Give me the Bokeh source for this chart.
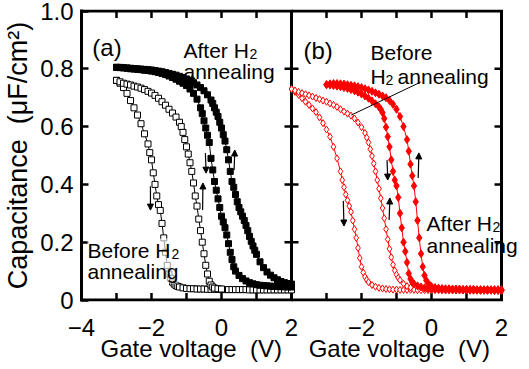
from bokeh.plotting import figure
from bokeh.models import Range1d, LinearAxis, FixedTicker, Label, Arrow, NormalHead
from bokeh.embed import file_html
from bokeh.resources import INLINE

FONT = "Liberation Sans"

# ---------------- data: panel (a) ----------------
a_bef_dn_v = [-3.0, -2.9, -2.8, -2.7, -2.6, -2.5, -2.4, -2.3, -2.2, -2.1,
              -2.05, -2.0, -1.95, -1.9, -1.85, -1.8, -1.75, -1.7, -1.65, -1.6, -1.55, -1.5, -1.45, -1.4, -1.35, -1.3, -1.25,
              -1.2, -1.1, -1.0, -0.9, -0.8, -0.7, -0.6, -0.5, -0.4, -0.3, -0.2, -0.1, 0.0,
              0.1, 0.2, 0.3, 0.4, 0.5, 0.6, 0.7, 0.8, 0.9, 1.0, 1.1, 1.2, 1.3, 1.4, 1.5, 1.6, 1.7, 1.8, 1.9, 2.0]
a_bef_dn_c = [0.76, 0.75, 0.735, 0.715, 0.69, 0.665, 0.64, 0.61, 0.575, 0.54,
              0.51, 0.485, 0.44, 0.40, 0.36, 0.33, 0.31, 0.265, 0.215, 0.165, 0.12, 0.09, 0.075, 0.062, 0.055, 0.05, 0.047,
              0.045, 0.042, 0.040, 0.039, 0.039, 0.038, 0.038, 0.038, 0.037, 0.037, 0.037, 0.037, 0.037,
              0.036, 0.036, 0.036, 0.036, 0.036, 0.036, 0.036, 0.035, 0.035, 0.035, 0.035, 0.035, 0.035, 0.035, 0.035,
              0.035, 0.035, 0.035, 0.035, 0.035]

a_bef_up_v = [-3.0, -2.9, -2.8, -2.7, -2.6, -2.5, -2.4, -2.3, -2.2, -2.1, -2.0, -1.9, -1.8, -1.7, -1.6, -1.5, -1.4, -1.3, -1.2,
              -1.15, -1.1, -1.05, -1.0, -0.95, -0.9, -0.85, -0.8, -0.75, -0.7, -0.65, -0.6, -0.55, -0.5, -0.45, -0.4,
              -0.35, -0.3, -0.25, -0.2, -0.1, 0.0]
a_bef_up_c = [0.76, 0.755, 0.75, 0.747, 0.744, 0.74, 0.737, 0.733, 0.728, 0.722, 0.716, 0.708, 0.698, 0.686, 0.674, 0.66,
              0.647, 0.633, 0.615,
              0.60, 0.58, 0.555, 0.53, 0.505, 0.475, 0.445, 0.405, 0.36, 0.325, 0.28, 0.24, 0.20, 0.16, 0.12, 0.09,
              0.065, 0.052, 0.045, 0.041, 0.039, 0.038]

a_aft_dn_v = [-3.0, -2.9, -2.8, -2.7, -2.6, -2.5, -2.4, -2.3, -2.2, -2.1, -2.0, -1.9, -1.8, -1.7, -1.6, -1.5, -1.4, -1.3,
              -1.2, -1.1, -1.0, -0.9, -0.8, -0.7, -0.6,
              -0.55, -0.5, -0.45, -0.4, -0.35, -0.3, -0.25, -0.2, -0.15, -0.1, -0.05, 0.0, 0.05, 0.1, 0.15, 0.2, 0.25,
              0.3, 0.35, 0.4,
              0.5, 0.6, 0.7, 0.8, 0.9, 1.0, 1.1, 1.2, 1.3, 1.4, 1.5, 1.6, 1.7, 1.8, 1.9, 2.0]
a_aft_dn_c = [0.805, 0.804, 0.803, 0.802, 0.80, 0.799, 0.798, 0.797, 0.795, 0.794, 0.792, 0.79, 0.787, 0.784, 0.78,
              0.775, 0.77, 0.764, 0.757, 0.75, 0.742, 0.73, 0.715, 0.695, 0.665,
              0.645, 0.62, 0.595, 0.57, 0.545, 0.49, 0.45, 0.41, 0.38, 0.35, 0.32, 0.29, 0.27, 0.25, 0.225, 0.195,
              0.165, 0.14, 0.115, 0.10,
              0.085, 0.074, 0.066, 0.06, 0.056, 0.053, 0.051, 0.05, 0.049, 0.048, 0.047, 0.047, 0.046, 0.046, 0.045,
              0.045]

a_aft_up_v = [-3.0, -2.9, -2.8, -2.7, -2.6, -2.5, -2.4, -2.3, -2.2, -2.1, -2.0, -1.9, -1.8, -1.7, -1.6, -1.5, -1.4, -1.3,
              -1.2, -1.1, -1.0, -0.9, -0.8, -0.7, -0.6, -0.5, -0.4, -0.3,
              -0.25, -0.2, -0.15, -0.1, -0.05, 0.0, 0.05, 0.1, 0.15, 0.2, 0.25, 0.3, 0.35, 0.4, 0.45, 0.5, 0.55, 0.6,
              0.65, 0.7, 0.75, 0.8, 0.85, 0.9, 0.95, 1.0,
              1.1, 1.2, 1.3, 1.4, 1.5, 1.6, 1.7, 1.8, 1.9, 2.0]
a_aft_up_c = [0.805, 0.805, 0.804, 0.803, 0.802, 0.801, 0.80, 0.799, 0.798, 0.797, 0.796, 0.794, 0.792, 0.79, 0.787,
              0.784, 0.781, 0.778, 0.774, 0.77, 0.765, 0.759, 0.752, 0.744, 0.735, 0.724, 0.71, 0.692,
              0.68, 0.665, 0.65, 0.635, 0.615, 0.595, 0.572, 0.55, 0.52, 0.485, 0.445, 0.41, 0.39, 0.365, 0.34, 0.32,
              0.305, 0.29, 0.275, 0.258, 0.24, 0.22, 0.203, 0.187, 0.172, 0.158,
              0.132, 0.112, 0.097, 0.086, 0.077, 0.07, 0.064, 0.06, 0.057, 0.055]

# ---------------- data: panel (b) ----------------
b_bef_dn_v = [-4.0, -3.9, -3.8, -3.7, -3.6, -3.5, -3.4, -3.3, -3.2, -3.1, -3.0, -2.9, -2.8, -2.7, -2.6,
              -2.55, -2.5, -2.45, -2.4, -2.35, -2.3, -2.25, -2.2, -2.15, -2.1, -2.05, -2.0, -1.95, -1.9, -1.85, -1.8,
              -1.7, -1.6, -1.5, -1.4, -1.3, -1.2, -1.1, -1.0, -0.9, -0.8, -0.7, -0.6, -0.5, -0.4, -0.3, -0.2, -0.1,
              0.0, 0.1, 0.2, 0.3, 0.4, 0.5, 0.6, 0.7, 0.8, 0.9, 1.0, 1.1, 1.2, 1.3, 1.4, 1.5, 1.6, 1.7, 1.8, 1.9, 2.0]
b_bef_dn_c = [0.73, 0.72, 0.71, 0.698, 0.686, 0.675, 0.663, 0.65, 0.632, 0.612, 0.59, 0.565, 0.53, 0.49, 0.445,
              0.415, 0.39, 0.365, 0.345, 0.325, 0.305, 0.275, 0.245, 0.215, 0.18, 0.145, 0.115, 0.095, 0.08, 0.07,
              0.062,
              0.052, 0.046, 0.042, 0.040, 0.038, 0.037, 0.036, 0.036, 0.035, 0.035, 0.035, 0.035, 0.035, 0.034,
              0.034, 0.034, 0.034, 0.034, 0.034, 0.034, 0.033, 0.033, 0.033, 0.033, 0.033, 0.033, 0.033, 0.033,
              0.032, 0.032, 0.032, 0.032, 0.032, 0.032, 0.032, 0.032, 0.032, 0.032]

b_bef_up_v = [-4.0, -3.9, -3.8, -3.7, -3.6, -3.5, -3.4, -3.3, -3.2, -3.1, -3.0, -2.9, -2.8, -2.7, -2.6, -2.5, -2.4,
              -2.3, -2.2, -2.1, -2.0, -1.9,
              -1.85, -1.8, -1.75, -1.7, -1.65, -1.6, -1.55, -1.5, -1.45, -1.4, -1.35, -1.3, -1.25, -1.2, -1.15, -1.1,
              -1.05, -1.0, -0.95, -0.9,
              -0.8, -0.7, -0.6]
b_bef_up_c = [0.73, 0.725, 0.72, 0.716, 0.712, 0.708, 0.704, 0.699, 0.695, 0.69, 0.686, 0.68, 0.675, 0.668, 0.66,
              0.652, 0.645, 0.638, 0.628, 0.614, 0.598, 0.578,
              0.562, 0.545, 0.522, 0.498, 0.472, 0.445, 0.415, 0.385, 0.352, 0.318, 0.283, 0.245, 0.21, 0.177, 0.148,
              0.122, 0.102, 0.088, 0.077, 0.069,
              0.056, 0.048, 0.043]

b_aft_dn_v = [-3.0, -2.9, -2.8, -2.7, -2.6, -2.5, -2.4, -2.3, -2.2, -2.1, -2.0, -1.9, -1.8, -1.7, -1.6, -1.5,
              -1.45, -1.4, -1.35, -1.3, -1.25, -1.2, -1.15, -1.1, -1.05, -1.0, -0.95, -0.9, -0.85, -0.8, -0.75, -0.7,
              -0.65, -0.6, -0.55, -0.5,
              -0.4, -0.3, -0.2, -0.1, 0.0, 0.1, 0.2, 0.3, 0.4, 0.5, 0.6, 0.7, 0.8, 0.9, 1.0, 1.1, 1.2, 1.3, 1.4, 1.5,
              1.6, 1.7, 1.8, 1.9, 2.0]
b_aft_dn_c = [0.745, 0.744, 0.742, 0.74, 0.738, 0.735, 0.732, 0.728, 0.724, 0.719, 0.713, 0.706, 0.698, 0.689, 0.679,
              0.668,
              0.66, 0.648, 0.628, 0.598, 0.565, 0.53, 0.485, 0.445, 0.415, 0.395, 0.355, 0.30, 0.25, 0.20, 0.168,
              0.13, 0.092, 0.073, 0.062, 0.056,
              0.049, 0.045, 0.042, 0.040, 0.039, 0.038, 0.038, 0.037, 0.037, 0.037, 0.036, 0.036, 0.036, 0.035,
              0.035, 0.035, 0.035, 0.034, 0.034, 0.034, 0.034, 0.034, 0.033, 0.033, 0.033]

b_aft_up_v = [-3.0, -2.9, -2.8, -2.7, -2.6, -2.5, -2.4, -2.3, -2.2, -2.1, -2.0, -1.9, -1.8, -1.7, -1.6, -1.5, -1.4,
              -1.3, -1.2, -1.1, -1.0, -0.9, -0.8, -0.7,
              -0.65, -0.6, -0.55, -0.5, -0.45, -0.4, -0.35, -0.3, -0.25, -0.2, -0.15, -0.1, -0.05, 0.0,
              0.1, 0.2, 0.3, 0.4, 0.5, 0.6, 0.7, 0.8, 0.9, 1.0, 1.1, 1.2, 1.3, 1.4, 1.5, 1.6, 1.7, 1.8, 1.9, 2.0]
b_aft_up_c = [0.745, 0.748, 0.749, 0.749, 0.748, 0.747, 0.745, 0.743, 0.741, 0.738, 0.735, 0.731, 0.727, 0.722,
              0.717, 0.712, 0.706, 0.70, 0.69, 0.677, 0.66, 0.635, 0.60, 0.555,
              0.515, 0.47, 0.43, 0.395, 0.34, 0.275, 0.215, 0.16, 0.115, 0.085, 0.068, 0.058, 0.051, 0.047,
              0.043, 0.041, 0.040, 0.039, 0.039, 0.038, 0.038, 0.038, 0.037, 0.037, 0.037, 0.037, 0.036, 0.036,
              0.036, 0.036, 0.036, 0.036, 0.036, 0.036]

# ---------------- axes ticks / labels ----------------
y_ticks = [0, 0.2, 0.4, 0.6, 0.8, 1.0]
y_labels = ["0", "0.2", "0.4", "0.6", "0.8", "1.0"]
y_inner_ticks = [0.2, 0.4, 0.6, 0.8]
x_major = [-4, -2, 0, 2, 4, 6, 8]          # label positions on the shared frame (panel b shifted by +6 V)
x_labels = ["\u22124", "\u22122", "0", "2", "\u22122", "0", "2"]
x_inner_ticks = [-3, -2, -1, 0, 1]          # inner tick marks, same for each panel
V_MIN, V_MAX = -4, 2
C_MIN, C_MAX = 0, 1

# arrows (x0, y0, x1, y1)
arrows_a = [(-2.03, 0.394, -2.03, 0.311), (-0.54, 0.311, -0.53, 0.405),
            (-0.46, 0.509, -0.44, 0.439), (0.36, 0.45, 0.38, 0.519)]
arrows_b = [(-1.27, 0.484, -1.25, 0.415), (-0.38, 0.422, -0.36, 0.509),
            (-2.52, 0.343, -2.50, 0.256), (-1.21, 0.277, -1.19, 0.353)]
leader_v = [-2.29, -0.31]
leader_c = [0.64, 0.754]

PX_V = 35.0    # pixels per volt
PX_C = 289.0   # pixels per unit capacitance
TICK = 7       # tick length, px

p = figure(frame_width=441, frame_height=292,
           x_range=Range1d(-4, -4 + 441 / PX_V), y_range=Range1d(-1.5 / PX_C, 1 + 1.5 / PX_C),
           x_axis_type=None, y_axis_type=None, output_backend="svg", toolbar_location=None,
           min_border_left=80, min_border_right=0, min_border_top=9, min_border_bottom=52)
p.extra_x_ranges = {"b": Range1d(-10, -10 + 441 / PX_V)}
p.outline_line_color = None
p.background_fill_color = "white"
p.border_fill_color = "white"

yl = LinearAxis(ticker=FixedTicker(ticks=y_ticks), major_label_overrides=dict(zip(y_ticks, y_labels)),
                axis_label="Capacitance\u00a0\u00a0(\u03bcF/cm\u00b2)")
yl.axis_line_width = 3
yl.axis_line_color = "black"
yl.major_tick_line_width = 2.5
yl.major_tick_in = TICK
yl.major_tick_out = 0
yl.minor_tick_line_color = None
yl.major_label_text_font = FONT
yl.major_label_text_font_size = "24px"
yl.major_label_text_color = "black"
yl.major_label_standoff = 8
yl.axis_label_text_font = FONT
yl.axis_label_text_font_size = "27px"
yl.axis_label_text_font_style = "normal"
yl.axis_label_text_color = "black"
yl.axis_label_standoff = 4
p.add_layout(yl, "left")

nb = "\u00a0"
xlab = "Gate voltage" + nb * 2 + "(V)"
xb = LinearAxis(ticker=FixedTicker(ticks=x_major), major_label_overrides=dict(zip(x_major, x_labels)),
                axis_label=xlab + nb * 4 + xlab + nb * 2)
xb.axis_line_color = None
xb.major_tick_line_color = None
xb.minor_tick_line_color = None
xb.major_label_text_font = FONT
xb.major_label_text_font_size = "24px"
xb.major_label_text_color = "black"
xb.major_label_standoff = 11
xb.axis_label_text_font = FONT
xb.axis_label_text_font_size = "24px"
xb.axis_label_text_font_style = "normal"
xb.axis_label_text_color = "black"
xb.axis_label_standoff = -4
p.add_layout(xb, "below")

# frame box and divider (panel a: V -4..2, panel b: V -4..2)
p.line([V_MIN, V_MAX, V_MAX, V_MIN, V_MIN], [C_MIN, C_MIN, C_MAX, C_MAX, C_MIN],
       line_color="black", line_width=3, line_join="miter")
p.line([V_MIN, V_MAX, V_MAX, V_MIN], [C_MIN, C_MIN, C_MAX, C_MAX], x_range_name="b",
       line_color="black", line_width=3, line_join="miter")

tl_c = TICK / PX_C
tl_v = TICK / PX_V
for xr in ("default", "b"):
    n = len(x_inner_ticks)
    p.segment(x0=x_inner_ticks, y0=[C_MIN] * n, x1=x_inner_ticks, y1=[C_MIN + tl_c] * n,
              x_range_name=xr, line_color="black", line_width=2.5)
    p.segment(x0=x_inner_ticks, y0=[C_MAX] * n, x1=x_inner_ticks, y1=[C_MAX - tl_c] * n,
              x_range_name=xr, line_color="black", line_width=2.5)
m = len(y_inner_ticks)
p.segment(x0=[V_MAX - tl_v] * m, y0=y_inner_ticks, x1=[V_MAX + tl_v] * m, y1=y_inner_ticks,
          line_color="black", line_width=2.5)
p.segment(x0=[V_MAX - tl_v] * m, y0=y_inner_ticks, x1=[V_MAX] * m, y1=y_inner_ticks, x_range_name="b",
          line_color="black", line_width=2.5)


def series(v, c, xr, color, marker, fill, size):
    p.line(v, c, x_range_name=xr, line_color=color, line_width=1)
    p.scatter(v, c, x_range_name=xr, marker=marker, size=size, line_color=color, fill_color=fill, line_width=1)


series(a_bef_dn_v, a_bef_dn_c, "default", "black", "square", "white", 6)
series(a_bef_up_v, a_bef_up_c, "default", "black", "square", "white", 6)
series(a_aft_dn_v, a_aft_dn_c, "default", "black", "square", "black", 6)
series(a_aft_up_v, a_aft_up_c, "default", "black", "square", "black", 6)

RED = "#ff0000"
series(b_bef_dn_v, b_bef_dn_c, "b", RED, "diamond", "white", 7)
series(b_bef_up_v, b_bef_up_c, "b", RED, "diamond", "white", 7)
series(b_aft_dn_v, b_aft_dn_c, "b", RED, "diamond", RED, 8)
series(b_aft_up_v, b_aft_up_c, "b", RED, "diamond", RED, 8)

p.line(leader_v, leader_c, x_range_name="b", line_color="black", line_width=1)

for xr, arr in (("default", arrows_a), ("b", arrows_b)):
    for (x0, y0, x1, y1) in arr:
        p.add_layout(Arrow(x_start=x0, y_start=y0, x_end=x1, y_end=y1, x_range_name=xr,
                           line_color="black", line_width=1.2,
                           end=NormalHead(size=6, fill_color="black", line_color="black", line_width=1)))


def lab(text, x, y, size=21, xr="default", dx=0, dy=0, bg=None, align="left"):
    kw = dict(x=x, y=y, text=text, x_range_name=xr, x_offset=dx, y_offset=dy, text_font=FONT,
              text_font_size=f"{size}px", text_color="black", text_baseline="alphabetic", text_align=align)
    if bg is not None:
        kw.update(background_fill_color="white", background_fill_alpha=bg)
    p.add_layout(Label(**kw))


# panel (a)
lab("(a)", -3.69, 0.872, size=24)
lab("After H", -1.086, 0.865)
lab("2", -1.086, 0.865, size=14, dx=66, dy=-4)
lab("annealing", -1.086, 0.792)
lab("Before H", -3.83, 0.173, bg=0.6)
lab("2", -3.83, 0.173, size=14, dx=84, dy=-4, bg=0.6)
lab("annealing", -3.83, 0.097, bg=0.6)

# panel (b)
lab("(b)", -3.66, 0.865, size=24, xr="b")
lab("Before", -1.74, 0.855, xr="b")
lab("H", -1.74, 0.775, xr="b")
lab("2", -1.74, 0.775, size=14, xr="b", dx=15, dy=-4)
lab("annealing", -1.74, 0.775, xr="b", dx=27)
lab("After H", -0.14, 0.266, xr="b")
lab("2", -0.14, 0.266, size=14, xr="b", dx=66, dy=-4)
lab("annealing", -0.14, 0.190, xr="b")

open("out.html", "w").write(file_html(p, INLINE))
